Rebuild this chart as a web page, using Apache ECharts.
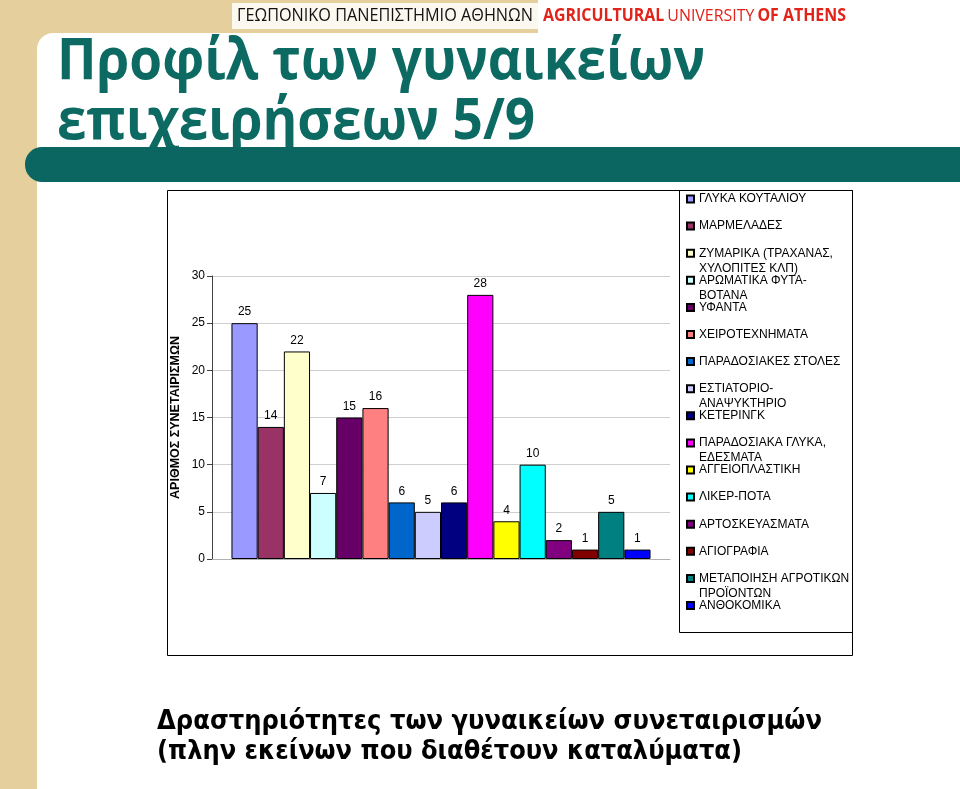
<!DOCTYPE html>
<html>
<head>
<meta charset="utf-8">
<script src="https://cdn.jsdelivr.net/npm/echarts@6/dist/echarts.min.js"></script>
<style>
html,body{margin:0;padding:0;background:#fff;}
#c{width:960px;height:789px;}
</style>
</head>
<body>
<div id="c"></div>
<script>
const categories = [
  'ΓΛΥΚΑ ΚΟΥΤΑΛΙΟΥ',
  'ΜΑΡΜΕΛΑΔΕΣ',
  'ΖΥΜΑΡΙΚΑ (ΤΡΑΧΑΝΑΣ,\nΧΥΛΟΠΙΤΕΣ ΚΛΠ)',
  'ΑΡΩΜΑΤΙΚΑ ΦΥΤΑ-\nΒΟΤΑΝΑ',
  'ΥΦΑΝΤΑ',
  'ΧΕΙΡΟΤΕΧΝΗΜΑΤΑ',
  'ΠΑΡΑΔΟΣΙΑΚΕΣ ΣΤΟΛΕΣ',
  'ΕΣΤΙΑΤΟΡΙΟ-\nΑΝΑΨΥΚΤΗΡΙΟ',
  'ΚΕΤΕΡΙΝΓΚ',
  'ΠΑΡΑΔΟΣΙΑΚΑ ΓΛΥΚΑ,\nΕΔΕΣΜΑΤΑ',
  'ΑΓΓΕΙΟΠΛΑΣΤΙΚΗ',
  'ΛΙΚΕΡ-ΠΟΤΑ',
  'ΑΡΤΟΣΚΕΥΑΣΜΑΤΑ',
  'ΑΓΙΟΓΡΑΦΙΑ',
  'ΜΕΤΑΠΟΙΗΣΗ ΑΓΡΟΤΙΚΩΝ\nΠΡΟΪΟΝΤΩΝ',
  'ΑΝΘΟΚΟΜΙΚΑ'
];
const values = [25, 14, 22, 7, 15, 16, 6, 5, 6, 28, 4, 10, 2, 1, 5, 1];
const colors = ['#9999FF','#993366','#FFFFCC','#CCFFFF','#660066','#FF8080','#0066CC','#CCCCFF',
                '#000080','#FF00FF','#FFFF00','#00FFFF','#800080','#800000','#008080','#0000FF'];
const yMin = 0, yMax = 30, yStep = 5;
const yAxisName = 'ΑΡΙΘΜΟΣ ΣΥΝΕΤΑΙΡΙΣΜΩΝ';
const titleLines = ['Προφίλ των γυναικείων', 'επιχειρήσεων 5/9'];
const captionLines = ['Δραστηριότητες των γυναικείων συνεταιρισμών', '(πλην εκείνων που διαθέτουν καταλύματα)'];
const headerGreek = 'ΓΕΩΠΟΝΙΚΟ ΠΑΝΕΠΙΣΤΗΜΙΟ ΑΘΗΝΩΝ';
const headerEnglish = ['AGRICULTURAL', 'UNIVERSITY', 'OF ATHENS'];

const chart = echarts.init(document.getElementById('c'), null, {renderer:'canvas'});
const FONT = '"Liberation Sans", Arial, sans-serif';
const TEAL = '#0d6a63';

const mctx = document.createElement('canvas').getContext('2d');
function textWidth(text, font) { mctx.font = font; return mctx.measureText(text).width; }

const titleFont = 'bold 58px "Open Sans", sans-serif';
const titleScale = 648 / textWidth(titleLines[0], titleFont);
const capFont = 'bold 26px "DejaVu Sans", sans-serif';
const capScale1 = 665 / textWidth(captionLines[0], capFont);
const capScale2 = 585 / textWidth(captionLines[1], capFont);
const hdrFont = '19px "Open Sans", sans-serif';
const hdrScale = 296 / textWidth(headerGreek, hdrFont);
const engBold = 'bold 17px "Open Sans", sans-serif';
const engNorm = '17px "Open Sans", sans-serif';
const engW = textWidth(headerEnglish[0] + ' ', engBold) + textWidth(headerEnglish[1] + ' ', engNorm) + textWidth(headerEnglish[2], engBold);
const engScale = 305 / engW;

const series = categories.map((name, i) => ({
  name: name,
  type: 'bar',
  data: [values[i]],
  barGap: '0%',
  barCategoryGap: '8.5%',
  itemStyle: {color: colors[i], borderColor: '#000', borderWidth: 1},
  label: {show: true, position: 'top', distance: 5, color: '#000', fontSize: 12, fontFamily: FONT},
  emphasis: {disabled: true},
  animation: false
}));

const legends = categories.map((name, i) => {
  const twoLine = name.indexOf('\n') >= 0;
  const center = 199 + i * 27.1;
  return {
    data: [name],
    left: 686,
    top: twoLine ? center - 22.5 : center - 7.5,
    padding: 0,
    itemWidth: 7,
    itemHeight: 7,
    itemGap: 0,
    icon: 'rect',
    selectedMode: false,
    formatter: n => (n.indexOf('\n') >= 0 ? ' \n' + n : n),
    textStyle: {color: '#000', fontSize: 12, fontFamily: FONT, lineHeight: 15}
  };
});

const option = {
  animation: false,
  grid: {left: 212, top: 276, width: 458, height: 283},
  xAxis: {
    type: 'category', data: [''],
    axisLine: {show: true, lineStyle: {color: '#b0b0b0', width: 1}},
    axisTick: {show: false}, axisLabel: {show: false}
  },
  yAxis: {
    type: 'value', min: yMin, max: yMax, interval: yStep,
    name: yAxisName, nameLocation: 'middle', nameRotate: 90, nameGap: 30,
    nameTextStyle: {color: '#000', fontSize: 12.5, fontWeight: 'bold', fontFamily: FONT},
    axisLine: {show: true, lineStyle: {color: '#404040', width: 1}},
    axisTick: {show: true, inside: false, length: 5, lineStyle: {color: '#404040'}},
    axisLabel: {color: '#000', fontSize: 12, fontFamily: FONT, margin: 7},
    splitLine: {show: true, lineStyle: {color: '#cfcfcf', width: 1}}
  },
  legend: legends,
  series: series,
  graphic: [
    {type: 'rect', z: -100, shape: {x: 0, y: 0, width: 960, height: 789}, style: {fill: '#e4cf9d'}},
    {type: 'rect', z: -99, shape: {x: 538, y: 0, width: 422, height: 40}, style: {fill: '#ffffff'}},
    {type: 'rect', z: -99, shape: {x: 37, y: 33, width: 923, height: 756, r: [16, 0, 0, 0]}, style: {fill: '#ffffff'}},
    {type: 'rect', z: -98, shape: {x: 232, y: 3, width: 306, height: 26}, style: {fill: '#fbf8ef'}},
    {type: 'text', z: 10, x: 237, y: 16, scaleX: hdrScale, style: {text: headerGreek, x: 0, y: 0, verticalAlign: 'middle',
      fill: '#111', font: hdrFont}},
    {type: 'text', z: 10, x: 543, y: 16, scaleX: engScale, style: {
      text: '{b|' + headerEnglish[0] + '} {n|' + headerEnglish[1] + '} {b|' + headerEnglish[2] + '}', x: 0, y: 0, verticalAlign: 'middle',
      rich: {
        b: {fill: '#e2231a', fontSize: 17, fontWeight: 'bold', fontFamily: '"Open Sans", sans-serif'},
        n: {fill: '#e2231a', fontSize: 17, fontFamily: '"Open Sans", sans-serif'}
      }}},
    {type: 'text', z: 10, x: 57, y: 62, scaleX: titleScale, style: {text: titleLines[0], x: 0, y: 0, verticalAlign: 'middle', fill: TEAL,
      font: titleFont}},
    {type: 'text', z: 10, x: 57, y: 122, scaleX: titleScale, style: {text: titleLines[1], x: 0, y: 0, verticalAlign: 'middle', fill: TEAL,
      font: titleFont}},
    {type: 'rect', z: 11, shape: {x: 25, y: 147, width: 960, height: 35, r: [17, 0, 0, 17]}, style: {fill: '#0b6661'}},
    {type: 'rect', z: 5, shape: {x: 167.5, y: 190.5, width: 685, height: 465}, style: {fill: 'none', stroke: '#000', lineWidth: 1}},
    {type: 'rect', z: 5, shape: {x: 679.5, y: 190.5, width: 173, height: 442}, style: {fill: 'none', stroke: '#000', lineWidth: 1}},
    {type: 'text', z: 10, x: 157, y: 722, scaleX: capScale1, style: {text: captionLines[0], x: 0, y: 0, verticalAlign: 'middle', fill: '#000',
      font: capFont}},
    {type: 'text', z: 10, x: 157, y: 752, scaleX: capScale2, style: {text: captionLines[1], x: 0, y: 0, verticalAlign: 'middle', fill: '#000',
      font: capFont}}
  ]
};
chart.setOption(option);
</script>
</body>
</html>
